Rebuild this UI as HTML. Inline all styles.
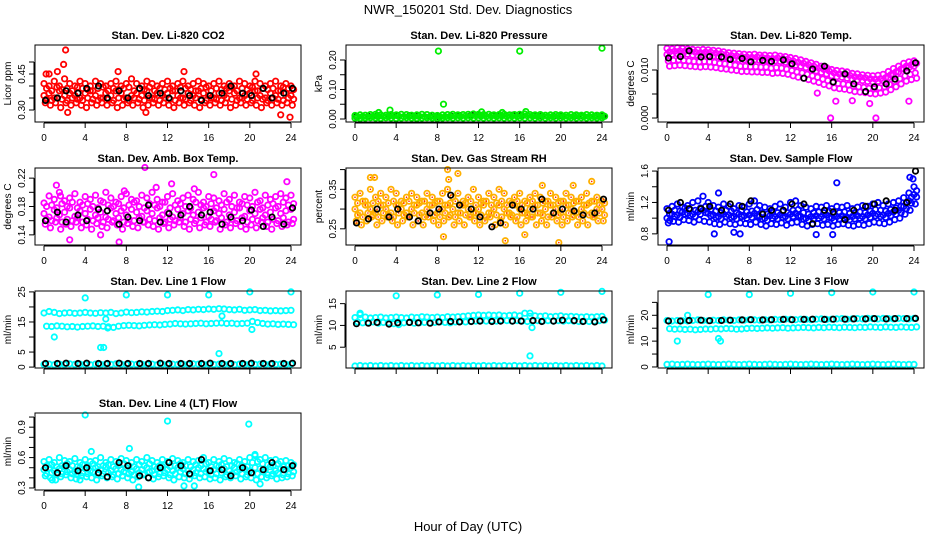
<!DOCTYPE html>
<html><head><meta charset="utf-8"><style>
html,body{margin:0;padding:0;background:#fff;}
svg{display:block;font-family:"Liberation Sans",sans-serif;}
</style></head><body>
<svg id="chart" width="936" height="540" viewBox="0 0 936 540" xmlns="http://www.w3.org/2000/svg">
<rect x="0" y="0" width="936" height="540" fill="#fff"/>
<text x="468" y="14" text-anchor="middle" font-size="13">NWR_150201  Std. Dev. Diagnostics</text>
<text x="468" y="531" text-anchor="middle" font-size="13">Hour of Day (UTC)</text>
</svg>
<script>
const hours = [0,0.5,1,1.5,2,2.5,3,3.5,4,4.5,5,5.5,6,6.5,7,7.5,8,8.5,9,9.5,10,10.5,11,11.5,12,12.5,13,13.5,14,14.5,15,15.5,16,16.5,17,17.5,18,18.5,19,19.5,20,20.5,21,21.5,22,22.5,23,23.5,24];
const hourly = [0,1,2,3,4,5,6,7,8,9,10,11,12,13,14,15,16,17,18,19,20,21,22,23,24];
const xTicks = [0,4,8,12,16,20,24];

// Panel 1 CO2
const co2Hi = [0.41,0.40,0.42,0.40,0.43,0.41,0.40,0.42,0.41,0.40,0.42,0.41,0.40,0.41,0.42,0.40,0.41,0.43,0.41,0.40,0.42,0.41,0.40,0.41,0.42,0.40,0.41,0.42,0.40,0.41,0.42,0.41,0.40,0.41,0.42,0.40,0.41,0.40,0.42,0.41,0.40,0.42,0.41,0.40,0.41,0.42,0.40,0.41,0.40];
const co2A = [0.39,0.38,0.395,0.385,0.39,0.38,0.395,0.39,0.385,0.38,0.39,0.395,0.38,0.39,0.385,0.39,0.395,0.38,0.39,0.385,0.395,0.38,0.39,0.385,0.39,0.38,0.395,0.39,0.385,0.38,0.39,0.395,0.38,0.39,0.385,0.39,0.395,0.38,0.39,0.385,0.395,0.38,0.39,0.385,0.39,0.38,0.395,0.39,0.385];
const co2Mid = [0.36,0.37,0.35,0.38,0.36,0.37,0.36,0.35,0.37,0.38,0.36,0.35,0.37,0.36,0.38,0.37,0.35,0.36,0.37,0.36,0.38,0.35,0.37,0.36,0.37,0.38,0.36,0.35,0.37,0.36,0.38,0.37,0.36,0.35,0.37,0.36,0.38,0.37,0.35,0.36,0.37,0.38,0.36,0.35,0.37,0.36,0.38,0.37,0.36];
const co2B = [0.345,0.34,0.35,0.345,0.34,0.35,0.345,0.34,0.35,0.345,0.34,0.35,0.345,0.34,0.35,0.345,0.34,0.35,0.345,0.34,0.35,0.345,0.34,0.35,0.345,0.34,0.35,0.345,0.34,0.35,0.345,0.34,0.35,0.345,0.34,0.35,0.345,0.34,0.35,0.345,0.34,0.35,0.345,0.34,0.35,0.345,0.34,0.35,0.345];
const co2Lo = [0.33,0.32,0.33,0.31,0.33,0.32,0.33,0.32,0.31,0.33,0.32,0.33,0.32,0.33,0.31,0.32,0.33,0.32,0.33,0.31,0.32,0.33,0.32,0.33,0.32,0.31,0.33,0.32,0.33,0.32,0.31,0.33,0.32,0.33,0.32,0.33,0.31,0.32,0.33,0.32,0.33,0.32,0.31,0.33,0.32,0.33,0.32,0.33,0.32];
const co2Black = [0.34,0.35,0.38,0.37,0.39,0.40,0.35,0.38,0.35,0.39,0.36,0.37,0.35,0.38,0.36,0.34,0.36,0.37,0.40,0.37,0.36,0.39,0.35,0.37,0.39];
const co2OutX = [2.1,1.9,1.3,0.2,2.3,7.2,13.6,23,23.9,0.5,9.9,20.6];
const co2OutY = [0.55,0.49,0.46,0.45,0.29,0.46,0.46,0.28,0.27,0.45,0.29,0.45];

// Panel 2 Pressure
const presHi = [0.012,0.014,0.013,0.015,0.016,0.014,0.013,0.015,0.014,0.016,0.015,0.013,0.014,0.016,0.015,0.013,0.012,0.014,0.015,0.016,0.014,0.015,0.016,0.017,0.016,0.015,0.016,0.014,0.015,0.016,0.014,0.015,0.016,0.017,0.015,0.014,0.015,0.013,0.014,0.015,0.014,0.013,0.015,0.014,0.013,0.015,0.014,0.013,0.014];
const presMid = [0.007,0.008,0.007,0.009,0.008,0.009,0.008,0.010,0.009,0.008,0.009,0.008,0.009,0.008,0.007,0.008,0.007,0.008,0.009,0.010,0.009,0.010,0.009,0.011,0.010,0.009,0.010,0.009,0.010,0.009,0.010,0.009,0.010,0.011,0.010,0.009,0.010,0.008,0.009,0.010,0.009,0.008,0.009,0.010,0.009,0.008,0.009,0.008,0.009];
const presLo = [0.003,0.002,0.003,0.004,0.003,0.002,0.004,0.003,0.002,0.003,0.004,0.003,0.002,0.003,0.004,0.003,0.002,0.003,0.004,0.003,0.004,0.003,0.004,0.003,0.004,0.003,0.004,0.003,0.004,0.003,0.004,0.003,0.004,0.003,0.004,0.003,0.004,0.003,0.004,0.003,0.004,0.003,0.004,0.003,0.004,0.003,0.004,0.003,0.004];
const presBlack = [0.008,0.009,0.010,0.010,0.012,0.011,0.010,0.008,0.007,0.010,0.012,0.013,0.012,0.012,0.013,0.013,0.012,0.011,0.010,0.009,0.010,0.009,0.010,0.009,0.010];
const presOutX = [8.1,16,24,8.6,3.4,2.3,12.3,16.6,14.3];
const presOutY = [0.23,0.23,0.24,0.05,0.03,0.022,0.024,0.025,0.022];

// Panel 3 Temp
const temHi = [0.0145,0.0144,0.0146,0.0145,0.0144,0.0143,0.0142,0.0143,0.0142,0.0141,0.0140,0.0138,0.0136,0.0135,0.0134,0.0133,0.0132,0.0133,0.0131,0.0131,0.0130,0.0131,0.0129,0.0128,0.0126,0.0124,0.0121,0.0118,0.0115,0.0112,0.0108,0.0105,0.0101,0.0099,0.0098,0.0096,0.0093,0.0092,0.0090,0.0089,0.0088,0.0089,0.0091,0.0097,0.0103,0.0108,0.0114,0.0117,0.0119];
const temA = [0.0138,0.0139,0.0140,0.0139,0.0139,0.0137,0.0136,0.0137,0.0137,0.0135,0.0134,0.0132,0.0130,0.0129,0.0128,0.0127,0.0126,0.0127,0.0126,0.0125,0.0124,0.0125,0.0124,0.0122,0.0119,0.0116,0.0114,0.0111,0.0108,0.0104,0.0101,0.0098,0.0094,0.0092,0.0091,0.0089,0.0086,0.0085,0.0084,0.0082,0.0081,0.0082,0.0084,0.0090,0.0096,0.0102,0.0108,0.0111,0.0114];
const temMid = [0.0132,0.0133,0.0134,0.0133,0.0133,0.0131,0.0130,0.0131,0.0131,0.0129,0.0128,0.0126,0.0124,0.0123,0.0122,0.0121,0.0120,0.0121,0.0120,0.0119,0.0118,0.0119,0.0118,0.0116,0.0113,0.0110,0.0108,0.0105,0.0102,0.0098,0.0095,0.0092,0.0088,0.0086,0.0085,0.0083,0.0080,0.0079,0.0078,0.0076,0.0075,0.0076,0.0078,0.0084,0.0090,0.0096,0.0102,0.0105,0.0108];
const temB = [0.0108,0.0109,0.0110,0.0109,0.0108,0.0107,0.0106,0.0107,0.0106,0.0105,0.0103,0.0102,0.0100,0.0099,0.0097,0.0097,0.0096,0.0096,0.0095,0.0095,0.0093,0.0094,0.0093,0.0091,0.0088,0.0085,0.0083,0.0080,0.0077,0.0074,0.0070,0.0067,0.0063,0.0061,0.0060,0.0058,0.0055,0.0054,0.0053,0.0051,0.0050,0.0052,0.0054,0.0059,0.0065,0.0071,0.0077,0.0080,0.0083];
const temLo = [0.0119,0.0120,0.0121,0.0120,0.0119,0.0118,0.0117,0.0118,0.0117,0.0116,0.0114,0.0113,0.0111,0.0110,0.0108,0.0108,0.0107,0.0107,0.0106,0.0106,0.0104,0.0105,0.0104,0.0102,0.0099,0.0096,0.0094,0.0091,0.0088,0.0085,0.0081,0.0078,0.0074,0.0072,0.0071,0.0069,0.0066,0.0065,0.0064,0.0062,0.0061,0.0063,0.0065,0.0070,0.0076,0.0082,0.0088,0.0091,0.0094];
const temBlack = [0.0125,0.0128,0.0140,0.0127,0.0128,0.0127,0.0122,0.0124,0.0117,0.0120,0.0118,0.0121,0.0113,0.0083,0.0102,0.0108,0.0075,0.0092,0.0071,0.0055,0.0065,0.0071,0.0081,0.0098,0.0115];
const temOutX = [15.9,20.3,23.5,19.7,16.4,14.6,18.0];
const temOutY = [0.0,0.0,0.0035,0.003,0.0035,0.0052,0.0036];

// Panel 4 Amb Box Temp
const ambHi = [0.185,0.195,0.190,0.200,0.188,0.192,0.198,0.186,0.194,0.190,0.196,0.188,0.200,0.192,0.186,0.194,0.198,0.190,0.188,0.196,0.192,0.200,0.190,0.186,0.194,0.198,0.188,0.192,0.196,0.190,0.200,0.186,0.194,0.192,0.188,0.198,0.190,0.196,0.186,0.194,0.192,0.200,0.188,0.196,0.190,0.194,0.198,0.192,0.196];
const ambA = [0.180,0.182,0.178,0.184,0.180,0.186,0.178,0.182,0.184,0.180,0.178,0.186,0.182,0.180,0.184,0.178,0.182,0.186,0.180,0.178,0.184,0.182,0.180,0.186,0.178,0.182,0.184,0.180,0.178,0.186,0.182,0.180,0.184,0.178,0.182,0.186,0.180,0.178,0.184,0.182,0.180,0.186,0.178,0.182,0.184,0.180,0.186,0.182,0.184];
const ambMid = [0.170,0.165,0.175,0.168,0.172,0.178,0.166,0.174,0.170,0.176,0.168,0.172,0.165,0.178,0.170,0.174,0.168,0.176,0.172,0.166,0.174,0.170,0.178,0.168,0.172,0.165,0.176,0.170,0.174,0.168,0.172,0.178,0.166,0.174,0.170,0.176,0.168,0.172,0.178,0.166,0.174,0.170,0.176,0.168,0.172,0.178,0.170,0.174,0.176];
const ambB = [0.162,0.160,0.164,0.158,0.162,0.160,0.164,0.158,0.162,0.160,0.164,0.158,0.162,0.160,0.164,0.158,0.162,0.160,0.164,0.158,0.162,0.160,0.164,0.158,0.162,0.160,0.164,0.158,0.162,0.160,0.164,0.158,0.162,0.160,0.164,0.158,0.162,0.160,0.164,0.158,0.162,0.160,0.164,0.158,0.162,0.160,0.164,0.158,0.162];
const ambLo = [0.155,0.150,0.158,0.148,0.155,0.152,0.158,0.150,0.154,0.148,0.156,0.152,0.150,0.158,0.154,0.148,0.156,0.152,0.150,0.158,0.154,0.152,0.148,0.156,0.150,0.154,0.158,0.152,0.148,0.156,0.150,0.154,0.152,0.158,0.148,0.154,0.150,0.156,0.152,0.148,0.154,0.150,0.158,0.152,0.148,0.156,0.152,0.154,0.156];
const ambBlack = [0.160,0.172,0.158,0.168,0.160,0.176,0.174,0.155,0.165,0.160,0.182,0.158,0.170,0.168,0.180,0.168,0.172,0.155,0.165,0.160,0.175,0.152,0.165,0.155,0.178];
const ambOutX = [9.8,1.2,16.5,23.6,2.5,7.3,12.4,10.9,1.6,7.8,14.6,5.5];
const ambOutY = [0.235,0.210,0.225,0.215,0.133,0.130,0.212,0.207,0.195,0.202,0.205,0.140];

// Panel 5 Gas Stream RH
const rhHi = [0.33,0.34,0.32,0.35,0.33,0.34,0.33,0.35,0.34,0.32,0.33,0.34,0.33,0.32,0.34,0.33,0.32,0.34,0.35,0.33,0.34,0.32,0.33,0.35,0.33,0.32,0.34,0.33,0.35,0.34,0.32,0.33,0.34,0.32,0.33,0.34,0.33,0.32,0.34,0.33,0.32,0.34,0.33,0.32,0.33,0.34,0.32,0.33,0.32];
const rhA = [0.315,0.32,0.31,0.315,0.32,0.31,0.315,0.32,0.31,0.315,0.32,0.31,0.315,0.32,0.31,0.315,0.32,0.31,0.315,0.32,0.31,0.315,0.32,0.31,0.315,0.32,0.31,0.315,0.32,0.31,0.315,0.32,0.31,0.315,0.32,0.31,0.315,0.32,0.31,0.315,0.32,0.31,0.315,0.32,0.31,0.315,0.32,0.31,0.315];
const rhMid = [0.30,0.29,0.31,0.30,0.29,0.31,0.30,0.29,0.31,0.30,0.29,0.30,0.31,0.29,0.30,0.31,0.29,0.30,0.31,0.30,0.29,0.31,0.30,0.29,0.30,0.31,0.29,0.30,0.31,0.30,0.29,0.31,0.30,0.29,0.30,0.31,0.29,0.30,0.31,0.30,0.29,0.31,0.30,0.29,0.30,0.31,0.29,0.30,0.30];
const rhB = [0.285,0.28,0.29,0.285,0.28,0.29,0.285,0.28,0.29,0.285,0.28,0.29,0.285,0.28,0.29,0.285,0.28,0.29,0.285,0.28,0.29,0.285,0.28,0.29,0.285,0.28,0.29,0.285,0.28,0.29,0.285,0.28,0.29,0.285,0.28,0.29,0.285,0.28,0.29,0.285,0.28,0.29,0.285,0.28,0.29,0.285,0.28,0.29,0.285];
const rhLo = [0.27,0.26,0.27,0.28,0.26,0.27,0.28,0.27,0.26,0.27,0.28,0.26,0.27,0.26,0.28,0.27,0.26,0.27,0.28,0.26,0.27,0.26,0.28,0.27,0.26,0.27,0.28,0.26,0.27,0.26,0.28,0.27,0.26,0.27,0.28,0.26,0.27,0.26,0.28,0.27,0.26,0.27,0.28,0.26,0.27,0.26,0.28,0.27,0.27];
const rhBlack = [0.265,0.275,0.300,0.280,0.300,0.280,0.270,0.290,0.300,0.335,0.310,0.300,0.280,0.255,0.265,0.310,0.300,0.300,0.325,0.290,0.300,0.295,0.285,0.290,0.325];
const rhOutX = [9.0,10.0,1.5,9.1,8.6,19.8,14.6,23.0,18.2,1.9,16.5,21.2];
const rhOutY = [0.400,0.390,0.380,0.375,0.230,0.215,0.220,0.370,0.360,0.380,0.235,0.360];

// Panel 6 Sample Flow
const sfHi = [1.12,1.15,1.18,1.14,1.16,1.20,1.22,1.28,1.20,1.16,1.14,1.18,1.15,1.12,1.16,1.14,1.18,1.22,1.16,1.14,1.12,1.15,1.18,1.14,1.20,1.22,1.16,1.14,1.12,1.15,1.14,1.16,1.12,1.15,1.14,1.16,1.12,1.14,1.16,1.15,1.18,1.20,1.16,1.18,1.20,1.22,1.26,1.32,1.40];
const sfA = [1.05,1.10,1.09,1.13,1.11,1.10,1.13,1.15,1.11,1.09,1.07,1.10,1.09,1.07,1.10,1.08,1.09,1.11,1.07,1.05,1.08,1.07,1.09,1.07,1.10,1.11,1.07,1.05,1.07,1.08,1.07,1.09,1.05,1.07,1.08,1.06,1.07,1.08,1.07,1.09,1.11,1.10,1.09,1.11,1.13,1.15,1.20,1.27,1.35];
const sfMid = [1.00,1.05,1.04,1.08,1.06,1.05,1.08,1.10,1.06,1.04,1.02,1.05,1.04,1.02,1.05,1.03,1.04,1.06,1.02,1.00,1.03,1.02,1.04,1.02,1.05,1.06,1.02,1.00,1.02,1.03,1.02,1.04,1.00,1.02,1.03,1.01,1.02,1.03,1.02,1.04,1.06,1.05,1.04,1.06,1.08,1.10,1.15,1.22,1.30];
const sfB = [0.97,1.02,1.01,1.05,1.03,1.02,1.05,1.07,1.03,1.01,0.99,1.02,1.01,0.99,1.02,1.00,1.01,1.03,0.99,0.97,1.00,0.99,1.01,0.99,1.02,1.03,0.99,0.97,0.99,1.00,0.99,1.01,0.97,0.99,1.00,0.98,0.99,1.00,0.99,1.01,1.03,1.02,1.01,1.03,1.05,1.07,1.12,1.19,1.27];
const sfLo = [0.94,0.96,0.95,0.98,0.97,0.95,0.98,0.96,0.95,0.93,0.92,0.95,0.93,0.92,0.94,0.93,0.92,0.95,0.92,0.90,0.93,0.92,0.94,0.91,0.94,0.95,0.92,0.90,0.92,0.93,0.91,0.92,0.90,0.92,0.93,0.91,0.90,0.92,0.91,0.93,0.95,0.94,0.93,0.95,0.98,1.00,1.05,1.10,1.18];
const sfBlack = [1.10,1.20,1.12,1.12,1.15,1.10,1.18,1.15,1.22,1.05,1.10,1.10,1.18,1.18,0.93,1.10,1.08,0.98,1.10,1.15,1.18,1.22,1.10,1.20,1.60];
const sfOutX = [0.2,16.5,23.6,4.6,6.5,14.5,16.1,7.1,5.0,23.9];
const sfOutY = [0.70,1.45,1.52,0.80,0.82,0.79,0.79,0.80,1.32,1.50];

// Panel 7 Line 1 Flow
const l1Hi = [18.0,18.5,18.2,17.8,18.0,18.1,17.9,18.0,18.2,18.0,17.9,18.1,18.0,18.2,17.8,18.0,18.3,18.1,18.2,18.4,18.3,18.5,18.6,18.5,18.8,18.9,19.0,18.8,19.1,19.0,19.2,19.1,19.3,19.2,19.4,19.3,19.1,19.0,19.2,18.9,19.0,19.1,18.8,18.9,18.7,18.8,18.7,18.8,18.9];
const l1Mid = [13.6,13.5,13.7,13.6,13.4,13.5,13.3,13.5,13.6,13.7,13.5,13.6,13.4,13.2,13.6,13.8,13.9,13.8,13.7,13.9,14.0,14.1,14.0,14.2,14.3,14.5,14.4,14.3,14.4,14.5,14.6,14.4,14.5,14.6,14.7,14.5,14.6,14.4,14.5,14.6,15.2,14.8,14.5,14.3,14.4,14.2,14.3,14.2,14.1];
const l1Lo = [0.9,1.0,0.8,1.0,0.9,1.1,0.9,1.0,0.9,0.8,1.0,0.9,1.0,0.9,1.1,1.0,0.9,1.0,0.9,1.0,0.9,1.0,0.8,1.0,0.9,1.0,0.9,1.0,0.9,1.1,1.0,0.9,1.0,0.9,1.0,0.9,1.0,0.8,1.0,0.9,1.0,0.9,1.0,0.9,1.0,0.9,1.0,0.9,1.0];
const l1Black = [1.2,1.2,1.3,1.2,1.3,1.2,1.2,1.3,1.2,1.2,1.2,1.3,1.2,1.2,1.2,1.2,1.3,1.2,1.2,1.2,1.3,1.2,1.2,1.2,1.3];
const l1OutX = [4,8,12,16,20,24,1,5.5,5.8,6.2,17,17.3,20.2,6.0];
const l1OutY = [23,24,24,24,25,25,10,6.5,6.5,13,4.5,17,12.5,16];

// Panel 8 Line 2 Flow
const l2Hi = [11.8,12.5,11.9,11.7,11.8,11.9,11.7,11.8,11.9,11.8,11.7,11.9,11.8,12.0,11.9,11.8,11.9,11.8,12.0,11.9,12.0,12.1,12.2,12.3,12.4,12.3,12.4,12.3,12.4,12.2,12.3,12.4,12.2,12.8,12.1,12.2,12.1,12.2,12.0,12.1,12.2,12.0,12.1,12.0,11.9,12.0,11.9,12.0,12.1];
const l2Mid = [10.8,10.6,10.7,10.8,10.5,10.7,10.6,10.4,10.2,10.6,10.7,10.5,10.6,10.7,10.6,10.7,10.8,10.7,10.6,10.8,10.9,10.8,10.9,11.0,11.1,11.0,11.1,11.0,11.2,11.1,11.0,11.1,11.0,10.9,11.0,11.1,11.0,11.1,11.0,11.1,11.0,11.1,11.0,10.9,11.0,10.9,11.0,11.1,11.2];
const l2Lo = [0.7,0.8,0.7,0.8,0.7,0.8,0.7,0.8,0.7,0.8,0.7,0.8,0.7,0.8,0.7,0.8,0.7,0.8,0.7,0.8,0.7,0.8,0.7,0.8,0.7,0.8,0.7,0.8,0.7,0.8,0.7,0.8,0.7,0.8,0.7,0.8,0.7,0.8,0.7,0.8,0.7,0.8,0.7,0.8,0.7,0.8,0.7,0.8,0.7];
const l2Black = [10.4,10.5,10.7,10.3,10.6,10.7,10.6,10.5,10.8,10.9,10.8,10.9,11.0,10.9,11.0,11.0,11.0,11.1,10.9,11.0,11.2,11.1,10.9,10.8,11.3];
const l2OutX = [4,8,12,16,20,24,17,17.2,0.5,17.0];
const l2OutY = [16.8,17.0,17.1,17.4,17.6,17.8,3.0,9.5,12.8,12.8];

// Panel 9 Line 3 Flow
const l3Hi = [18.0,17.8,18.0,17.9,17.8,18.0,18.2,18.0,17.9,18.1,18.0,18.2,18.1,18.0,18.2,18.1,18.3,18.2,18.1,18.3,18.2,18.4,18.3,18.5,18.4,18.3,18.5,18.4,18.3,18.5,18.6,18.4,18.5,18.6,18.7,18.5,18.6,18.7,18.6,18.8,18.7,18.6,18.8,18.7,18.6,18.8,18.7,18.6,18.8];
const l3Mid = [14.8,14.6,14.7,14.5,14.6,14.4,14.5,14.7,14.6,14.8,14.7,14.9,14.8,14.6,14.7,14.9,15.0,14.9,15.0,15.1,15.0,15.1,15.2,15.0,15.1,15.2,15.3,15.2,15.1,15.3,15.2,15.4,15.3,15.2,15.4,15.3,15.2,15.4,15.3,15.5,15.4,15.3,15.5,15.4,15.3,15.5,15.4,15.3,15.5];
const l3Lo = [1.0,1.1,0.9,1.0,1.1,1.0,0.9,1.0,1.1,1.0,0.9,1.0,1.1,1.0,0.9,1.0,1.1,1.0,0.9,1.0,1.1,1.0,0.9,1.0,1.1,1.0,0.9,1.0,1.1,1.0,0.9,1.0,1.1,1.0,0.9,1.0,1.1,1.0,0.9,1.0,1.1,1.0,0.9,1.0,1.1,1.0,0.9,1.0,1.0];
const l3Black = [17.8,17.8,18.0,18.1,17.9,18.0,18.1,18.2,18.3,18.2,18.3,18.4,18.3,18.4,18.5,18.4,18.5,18.5,18.6,18.6,18.7,18.6,18.7,18.7,18.8];
const l3OutX = [4,8,12,16,20,24,1,5,5.2,2.0];
const l3OutY = [28,28,28.5,28.8,29,29,10,11,10,20];

// Panel 10 Line 4 (LT) Flow
const l4Hi = [0.56,0.58,0.55,0.60,0.57,0.56,0.59,0.55,0.58,0.56,0.57,0.60,0.55,0.58,0.56,0.59,0.57,0.55,0.58,0.56,0.60,0.57,0.55,0.58,0.56,0.59,0.57,0.55,0.58,0.56,0.57,0.60,0.55,0.58,0.56,0.59,0.57,0.55,0.58,0.56,0.60,0.62,0.58,0.60,0.57,0.58,0.56,0.57,0.55];
const l4A = [0.52,0.53,0.51,0.52,0.54,0.52,0.51,0.53,0.52,0.54,0.51,0.52,0.53,0.51,0.52,0.54,0.52,0.51,0.53,0.52,0.54,0.51,0.52,0.53,0.51,0.52,0.54,0.52,0.51,0.53,0.52,0.54,0.51,0.52,0.53,0.51,0.52,0.54,0.52,0.51,0.55,0.56,0.54,0.53,0.52,0.54,0.51,0.52,0.53];
const l4Mid = [0.48,0.50,0.47,0.49,0.51,0.48,0.46,0.50,0.49,0.47,0.50,0.48,0.51,0.47,0.49,0.48,0.50,0.46,0.49,0.48,0.50,0.47,0.49,0.51,0.48,0.47,0.50,0.49,0.47,0.48,0.50,0.49,0.47,0.48,0.51,0.49,0.47,0.50,0.48,0.49,0.47,0.50,0.49,0.48,0.51,0.47,0.49,0.48,0.50];
const l4B = [0.44,0.45,0.43,0.44,0.46,0.44,0.43,0.45,0.44,0.46,0.43,0.44,0.45,0.43,0.44,0.46,0.44,0.43,0.45,0.44,0.46,0.43,0.44,0.45,0.43,0.44,0.46,0.44,0.43,0.45,0.44,0.46,0.43,0.44,0.45,0.43,0.44,0.46,0.44,0.43,0.45,0.44,0.46,0.43,0.44,0.45,0.43,0.44,0.46];
const l4Lo = [0.42,0.40,0.38,0.41,0.43,0.40,0.39,0.42,0.41,0.40,0.38,0.42,0.40,0.41,0.39,0.42,0.40,0.38,0.41,0.43,0.40,0.39,0.41,0.42,0.40,0.38,0.41,0.40,0.39,0.42,0.40,0.41,0.39,0.40,0.38,0.41,0.40,0.42,0.39,0.41,0.40,0.38,0.41,0.40,0.42,0.39,0.40,0.41,0.42];
const l4Black = [0.50,0.45,0.52,0.47,0.50,0.45,0.41,0.55,0.52,0.42,0.40,0.50,0.55,0.52,0.44,0.58,0.47,0.48,0.42,0.50,0.45,0.48,0.55,0.48,0.52];
const l4OutX = [4,12,19.9,9.2,13.6,0.8,3.5,8.3,21,4.6,20.5,14.6];
const l4OutY = [1.02,0.96,0.93,0.31,0.32,0.38,0.38,0.69,0.34,0.66,0.63,0.32];

const panels = [
 {name:'co2',col:0,row:0,title:'Stan. Dev. Li-820 CO2',ylab:'Licor ppm',ymin:0.25,ymax:0.5708,ticks:[0.30,0.35,0.40,0.45,0.50],labels:['0.30','','','0.45',''],color:'#ff0000',tiers:[co2Hi,co2A,co2Mid,co2B,co2Lo],black:co2Black,ox:co2OutX,oy:co2OutY,xl:true},
 {name:'pressure',col:1,row:0,title:'Stan. Dev. Li-820 Pressure',ylab:'kPa',ymin:-0.0102,ymax:0.2508,ticks:[0,0.05,0.10,0.15,0.20],labels:['0.00','','0.10','','0.20'],color:'#00ee00',tiers:[presHi,presMid,presLo],black:presBlack,ox:presOutX,oy:presOutY,xl:true,blackFirst:true},
 {name:'temp',col:2,row:0,title:'Stan. Dev. Li-820 Temp.',ylab:'degrees C',ymin:-0.00083,ymax:0.01521,ticks:[0,0.005,0.010],labels:['0.000','','0.010'],color:'#ff00ff',tiers:[temHi,temA,temMid,temB,temLo],black:temBlack,ox:temOutX,oy:temOutY,xl:true},
 {name:'amb-box-temp',col:0,row:1,title:'Stan. Dev. Amb. Box Temp.',ylab:'degrees C',ymin:0.1257,ymax:0.2343,ticks:[0.14,0.16,0.18,0.20,0.22],labels:['0.14','','0.18','','0.22'],color:'#ff00ff',tiers:[ambHi,ambA,ambMid,ambB,ambLo],black:ambBlack,ox:ambOutX,oy:ambOutY,xl:true},
 {name:'gas-stream-rh',col:1,row:1,title:'Stan. Dev. Gas Stream RH',ylab:'percent',ymin:0.209,ymax:0.404,ticks:[0.25,0.30,0.35,0.40],labels:['0.25','','0.35',''],color:'#ffb000',tiers:[rhHi,rhA,rhMid,rhB,rhLo],black:rhBlack,ox:rhOutX,oy:rhOutY,xl:true,dot:'#ff2000'},
 {name:'sample-flow',col:2,row:1,title:'Stan. Dev. Sample Flow',ylab:'ml/min',ymin:0.658,ymax:1.639,ticks:[0.8,1.0,1.2,1.4,1.6],labels:['0.8','','1.2','','1.6'],color:'#0000ff',tiers:[sfHi,sfA,sfMid,sfB,sfLo],black:sfBlack,ox:sfOutX,oy:sfOutY,xl:true},
 {name:'line1-flow',col:0,row:2,title:'Stan. Dev. Line 1 Flow',ylab:'ml/min',ymin:-0.3,ymax:25.3,ticks:[0,5,10,15,20,25],labels:['0','5','','15','','25'],color:'#00ffff',tiers:[l1Hi,l1Mid,l1Lo],black:l1Black,ox:l1OutX,oy:l1OutY,xl:false},
 {name:'line2-flow',col:1,row:2,title:'Stan. Dev. Line 2 Flow',ylab:'ml/min',ymin:0.23,ymax:17.9,ticks:[5,10,15],labels:['5','10','15'],color:'#00ffff',tiers:[l2Hi,l2Mid,l2Lo],black:l2Black,ox:l2OutX,oy:l2OutY,xl:false},
 {name:'line3-flow',col:2,row:2,title:'Stan. Dev. Line 3 Flow',ylab:'ml/min',ymin:-0.4,ymax:29.4,ticks:[0,5,10,15,20,25],labels:['0','','10','','20',''],color:'#00ffff',tiers:[l3Hi,l3Mid,l3Lo],black:l3Black,ox:l3OutX,oy:l3OutY,xl:false},
 {name:'line4-flow',col:0,row:3,title:'Stan. Dev. Line 4 (LT) Flow',ylab:'ml/min',ymin:0.28,ymax:1.04,ticks:[0.3,0.4,0.5,0.6,0.7,0.8,0.9,1.0],labels:['0.3','','','0.6','','','0.9',''],color:'#00ffff',tiers:[l4Hi,l4A,l4Mid,l4B,l4Lo],black:l4Black,ox:l4OutX,oy:l4OutY,xl:true}
];

const NS='http://www.w3.org/2000/svg';
const svg=document.getElementById('chart');
const colX=[35,346,658], rowY=[45,168,291,413], BW=266, BH=77, PAD=9, XW=247;
const tierOffsets=[0,0.25,0,0.25,0.125];
function mk(tag,attrs,parent){const e=document.createElementNS(NS,tag);for(const k in attrs)e.setAttribute(k,attrs[k]);(parent||svg).appendChild(e);return e;}

panels.forEach(p=>{
  const bx=colX[p.col], by=rowY[p.row];
  const g=mk('g',{});
  
  
  const xs=h=>bx+PAD+h*XW/24;
  const ys=v=>by+BH-(v-p.ymin)/(p.ymax-p.ymin)*BH;
  const pts=mk('g',{},g);
  
  
  function dot(x,y,c,name){
    if(y<by-2||y>by+BH+2)return;
    const e=mk('circle',{cx:x.toFixed(1),cy:y.toFixed(1),r:2.7,fill:'none',stroke:c,'stroke-width':1.8},pts);
    
    
    if(p.dot){const d=mk('circle',{cx:x.toFixed(1),cy:y.toFixed(1),r:0.8,fill:p.dot},pts);}
  }
  function drawBlack(){p.black.forEach((v,i)=>dot(xs(hourly[i]+0.5*(i%2?0.6:0.3)),ys(v),'#000','black-point'));}
  if(p.blackFirst)drawBlack();
  p.tiers.forEach((arr,t)=>arr.forEach((v,i)=>dot(xs(hours[i]+tierOffsets[t]),ys(v),p.color,'color-point')));
  p.ox.forEach((x,i)=>dot(xs(x),ys(p.oy[i]),p.color,'outlier-point'));
  if(!p.blackFirst)drawBlack();
  const box=mk('rect',{x:bx,y:by,width:BW,height:BH,fill:'none',stroke:'#000','stroke-width':1},g);
  
  
  const t=mk('text',{x:bx+BW/2,y:by-6,'text-anchor':'middle','font-size':11,'font-weight':'bold'},g);
  t.textContent=p.title;
  
  
  const xa=mk('g',{},g);
  
  
  mk('line',{x1:xs(0),x2:xs(24),y1:by+BH+1,y2:by+BH+1,stroke:'#000'},xa);
  xTicks.forEach(h=>{
    mk('line',{x1:xs(h),x2:xs(h),y1:by+BH+1,y2:by+BH+6,stroke:'#000'},xa);
    if(p.xl){const l=mk('text',{x:xs(h),y:by+BH+19,'text-anchor':'middle','font-size':10},xa);l.textContent=h;
      
      }
  });
  const ya=mk('g',{},g);
  
  
  mk('line',{x1:bx-1,x2:bx-1,y1:ys(p.ticks[0]),y2:ys(p.ticks[p.ticks.length-1]),stroke:'#000'},ya);
  p.ticks.forEach((v,i)=>{
    const y=ys(v);
    mk('line',{x1:bx-1,x2:bx-6,y1:y,y2:y,stroke:'#000'},ya);
    if(p.labels[i]){const l=mk('text',{x:0,y:0,'text-anchor':'middle','font-size':10,transform:`translate(${bx-10},${y}) rotate(-90)`},ya);l.textContent=p.labels[i];
      
      }
  });
  const yl=mk('text',{x:0,y:0,'text-anchor':'middle','font-size':10,transform:`translate(${bx-24},${by+BH/2}) rotate(-90)`},g);
  yl.textContent=p.ylab;
  
  
});
</script>
</body></html>
